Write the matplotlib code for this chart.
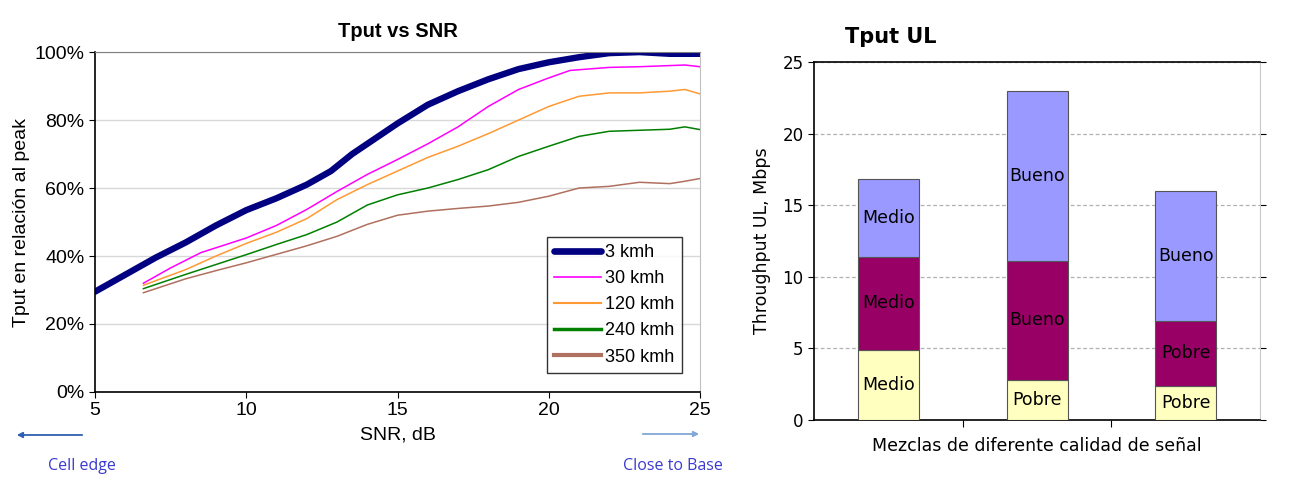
import matplotlib
matplotlib.use("Agg")
import matplotlib.pyplot as plt
from matplotlib.ticker import FuncFormatter, MultipleLocator
import numpy as np

# --- Throughput vs SNR curves (percent of peak) ---
snr_3 = [5, 6, 7, 8, 9, 10, 11, 12, 12.8, 13.5, 14, 15, 16, 17, 18, 19, 20, 21, 22, 23, 24, 25]
tput_3 = [29.5, 34.5, 39.5, 44.0, 49.0, 53.5, 57.0, 61.0, 65.0, 70.0, 73.0, 79.0, 84.5, 88.5, 92.0,
          95.0, 97.0, 98.5, 99.7, 100.0, 99.5, 99.5]

snr_slow = [6.6, 7.5, 8.5, 10, 11, 12, 13, 14, 15, 16, 17, 18, 19, 20, 20.7, 22, 23, 24.5, 25]
tput_30 = [32.0, 36.5, 41.0, 45.3, 49.0, 53.7, 59.0, 64.0, 68.4, 73.0, 78.0, 84.0, 89.0, 92.4,
           94.6, 95.5, 95.7, 96.2, 95.7]

snr_fast = [6.6, 8, 9, 10, 11, 12, 13, 14, 15, 16, 17, 18, 19, 20, 21, 22, 23, 24, 24.5, 25]
tput_120 = [31.4, 36.0, 40.0, 43.7, 47.0, 51.0, 56.6, 61.0, 65.0, 69.0, 72.3, 76.0, 80.0, 84.0,
            87.0, 88.0, 88.0, 88.5, 89.0, 87.7]
tput_240 = [30.4, 34.6, 37.5, 40.4, 43.4, 46.3, 50.0, 55.0, 58.0, 60.0, 62.5, 65.4, 69.3, 72.3,
            75.2, 76.7, 77.0, 77.3, 78.0, 77.2]
tput_350 = [29.2, 33.3, 35.7, 38.0, 40.5, 43.0, 45.8, 49.3, 52.0, 53.2, 54.0, 54.7, 55.8, 57.6,
            60.0, 60.5, 61.7, 61.3, 62.0, 62.8]

# --- Uplink throughput stacks (Mbps) ---
bar_groups = [0, 1, 2]
seg_bottom = [4.9, 2.8, 2.4]
seg_middle = [6.5, 8.3, 4.5]   # tops: 11.4, 11.1, 6.9
seg_top = [5.4, 11.9, 9.1]     # tops: 16.8, 23.0, 16.0
lbl_bottom = ["Medio", "Pobre", "Pobre"]
lbl_middle = ["Medio", "Bueno", "Pobre"]
lbl_top = ["Medio", "Bueno", "Bueno"]

fig = plt.figure(figsize=(13.05, 4.78), dpi=100)
fig.patch.set_facecolor("white")

# ================= left panel =================
ax = fig.add_axes([0.0728, 0.180, 0.4636, 0.711])
ax.plot(snr_3, tput_3, color="#000080", lw=4.6, label="3 kmh", solid_capstyle="round")
ax.plot(snr_slow, tput_30, color="#FF00FF", lw=1.1, label="30 kmh")
ax.plot(snr_fast, tput_120, color="#FF9933", lw=1.1, label="120 kmh")
ax.plot(snr_fast, tput_240, color="#008000", lw=1.1, label="240 kmh")
ax.plot(snr_fast, tput_350, color="#B0705F", lw=1.1, label="350 kmh")
ax.set_xlim(5, 25)
ax.set_ylim(0, 100)
ax.xaxis.set_major_locator(MultipleLocator(5))
ax.yaxis.set_major_locator(MultipleLocator(20))
ax.yaxis.set_major_formatter(FuncFormatter(lambda v, p: f"{v:.0f}%"))
ax.grid(axis="y", color="#d8d8d8", lw=1.0)
ax.set_axisbelow(True)
for s in ("left", "bottom"):
    ax.spines[s].set_color("#000000")
    ax.spines[s].set_linewidth(1.2)
ax.spines["top"].set_color("#808080")
ax.spines["right"].set_color("#c0c0c0")
ax.tick_params(axis="both", labelsize=14, length=4, color="#000000")
for t in ax.get_xticklabels() + ax.get_yticklabels():
    t.set_fontfamily("Liberation Sans")
ax.set_xlabel("SNR, dB", fontsize=14, family="Liberation Sans", labelpad=5)
ax.set_ylabel("Tput en relación al peak", fontsize=14, family="Liberation Sans", labelpad=3)
ax.set_title("Tput vs SNR", fontsize=14.5, fontweight="bold", family="Liberation Sans", pad=11)
leg = ax.legend(loc="lower right", bbox_to_anchor=(0.985, 0.03), frameon=True,
                fancybox=False, edgecolor="#000000", handlelength=2.6, handletextpad=0.25,
                borderpad=0.4, labelspacing=0.5, prop={"family": "Liberation Sans", "size": 13})
leg.get_frame().set_linewidth(1.0)
for h, w in zip(leg.get_lines(), [4.8, 1.2, 1.5, 2.5, 3.0]):
    h.set_linewidth(w)

# arrows and notes under the left panel
fig.patches.append(matplotlib.patches.FancyArrowPatch(
    (85 / 1305, 1 - 435 / 478), (14 / 1305, 1 - 435 / 478), transform=fig.transFigure,
    arrowstyle="-|>", mutation_scale=8, color="#3060B0", lw=1.3))
fig.patches.append(matplotlib.patches.FancyArrowPatch(
    (640 / 1305, 1 - 434 / 478), (702 / 1305, 1 - 434 / 478), transform=fig.transFigure,
    arrowstyle="-|>", mutation_scale=8, color="#80A8D8", lw=1.3))
fig.text(48 / 1305, 1 - 466 / 478, "Cell edge", color="#3A3AD0", fontsize=11.5,
         family="Open Sans", va="center", ha="left")
fig.text(623 / 1305, 1 - 466 / 478, "Close to Base", color="#3A3AD0", fontsize=11.5,
         family="Open Sans", va="center", ha="left")

# ================= right panel =================
bx = fig.add_axes([0.6238, 0.1213, 0.3418, 0.749])
w = 0.41
c_bot, c_mid, c_top = "#FFFFC0", "#990066", "#9999FF"
bot2 = np.array(seg_bottom)
bot3 = bot2 + np.array(seg_middle)
bx.bar(bar_groups, seg_bottom, width=w, color=c_bot, edgecolor="#555555", lw=0.8, zorder=3)
bx.bar(bar_groups, seg_middle, bottom=bot2, width=w, color=c_mid, edgecolor="#555555", lw=0.8, zorder=3)
bx.bar(bar_groups, seg_top, bottom=bot3, width=w, color=c_top, edgecolor="#555555", lw=0.8, zorder=3)
for i in bar_groups:
    bx.text(i, seg_bottom[i] * 0.5, lbl_bottom[i], ha="center", va="center", fontsize=12.5,
            family="DejaVu Sans", color="#000000", zorder=4)
    bx.text(i, bot2[i] + seg_middle[i] * 0.5, lbl_middle[i], ha="center", va="center",
            fontsize=12.5, family="DejaVu Sans", color="#000000", zorder=4)
    bx.text(i, bot3[i] + seg_top[i] * 0.5, lbl_top[i], ha="center", va="center",
            fontsize=12.5, family="DejaVu Sans", color="#000000", zorder=4)
bx.set_xlim(-0.5, 2.5)
bx.set_ylim(0, 25)
bx.yaxis.set_major_locator(MultipleLocator(5))
bx.set_xticks([0.5, 1.5])
bx.set_xticklabels([])
bx.tick_params(axis="x", length=5, color="#000000", direction="out")
bx.tick_params(axis="y", labelsize=12, length=4, color="#000000", right=True,
               direction="out")
bx.grid(axis="y", color="#b0b0b0", lw=0.9, ls=(0, (3, 2)))
bx.set_axisbelow(True)
for s in ("left", "bottom", "top"):
    bx.spines[s].set_color("#000000")
    bx.spines[s].set_linewidth(1.2)
bx.spines["right"].set_color("#c8c8c8")
bx.set_xlabel("Mezclas de diferente calidad de señal", fontsize=12.5, family="DejaVu Sans",
              labelpad=4)
bx.set_ylabel("Throughput UL, Mbps", fontsize=12.5, family="DejaVu Sans", labelpad=8)
bx.set_title("Tput UL", fontsize=15, fontweight="bold", family="DejaVu Sans", loc="left",
             x=0.07, pad=14)

fig.savefig("out.png", dpi=100, facecolor="white")
